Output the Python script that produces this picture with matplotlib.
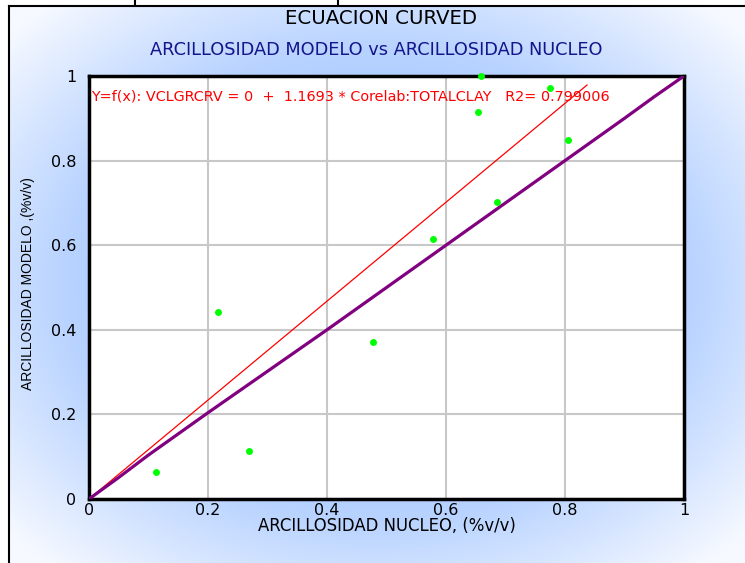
import numpy as np
import matplotlib
matplotlib.use('Agg')
import matplotlib.pyplot as plt
from matplotlib.lines import Line2D
from matplotlib.colors import LinearSegmentedColormap

# Datos: arcillosidad nucleo (x) vs modelo (y)
nucleo = [0.113, 0.217, 0.269, 0.477, 0.578, 0.659, 0.654, 0.686, 0.775, 0.805]
modelo = [0.064, 0.442, 0.114, 0.371, 0.615, 1.0, 0.915, 0.702, 0.972, 0.849]

# Curva del modelo (ecuacion curved)
curva_x = [0, 0.05, 0.1, 0.2, 0.3, 0.4, 0.5, 0.6, 0.7, 0.8, 0.9, 0.95, 1.0]
curva_y = [0, 0.051, 0.104, 0.204, 0.302, 0.40, 0.50, 0.60, 0.70, 0.80, 0.90, 0.951, 1.0]

# Recta de regresion
pendiente = 1.1693
recta_x = [0, 0.837]

ticks = [0, 0.2, 0.4, 0.6, 0.8, 1]
tick_labels = ['0', '0.2', '0.4', '0.6', '0.8', '1']

W, H = 745, 563
fig = plt.figure(figsize=(W / 100, H / 100), dpi=100)

# Fondo degradado (centro azul, esquinas blancas)
bg = fig.add_axes([9 / W, 0, 1 - 9 / W, 1 - 6 / H], zorder=-10)
gx, gy = np.meshgrid(np.linspace(-1, 1, 300), np.linspace(-1, 1, 240))
r = np.sqrt(gx ** 2 + gy ** 2)
t = np.clip((r - 0.35) / 1.0, 0, 1)
cmap = LinearSegmentedColormap.from_list('fondo', ['#94bfff', '#b8d3ff', '#f6f9ff'])
bg.imshow(t, cmap=cmap, aspect='auto', extent=[0, 1, 0, 1], vmin=0, vmax=1)
bg.set_axis_off()

# Marco exterior
fig.add_artist(Line2D([9 / W, 1], [1 - 6 / H, 1 - 6 / H], color='black', lw=1.5))
fig.add_artist(Line2D([9 / W, 9 / W], [0, 1 - 6 / H], color='black', lw=1.5))
for xm in [135, 338]:
    fig.add_artist(Line2D([xm / W, xm / W], [1, 1 - 5 / H], color='black', lw=1.5))

ax = fig.add_axes([89 / W, 64 / H, 595 / W, 423 / H])
ax.set_facecolor('white')

ax.grid(True, color='#c8c8c8', lw=1.5)
ax.set_axisbelow(True)

ax.plot(recta_x, [pendiente * v for v in recta_x], color='#ff0000', lw=0.9, zorder=3)
ax.plot(curva_x, curva_y, color='#800080', lw=2.3, zorder=4)
ax.plot(nucleo, modelo, 'o', color='#00ff00', markersize=5, markeredgewidth=0,
        clip_on=False, zorder=5)

ax.set_xlim(0, 1)
ax.set_ylim(0, 1)
ax.set_xticks(ticks)
ax.set_xticklabels(tick_labels)
ax.set_yticks(ticks)
ax.set_yticklabels(tick_labels)
ax.tick_params(length=0, labelsize=11.5, colors='black')
ax.tick_params(axis='y', pad=9)
ax.tick_params(axis='x', pad=3)
for s in ax.spines.values():
    s.set_linewidth(2.5)
    s.set_color('black')

ax.text(0.003, 0.952, 'Y=f(x): VCLGRCRV = 0  +  1.1693 * Corelab:TOTALCLAY   R2= 0.799006',
        transform=ax.transAxes, color='#ff0000', fontsize=10.4, va='center', ha='left', zorder=6)

ax.set_xlabel('ARCILLOSIDAD NUCLEO, (%v/v)', fontsize=11.9, labelpad=-1)
fig.text(28 / W, 1 - 284 / H, 'ARCILLOSIDAD MODELO ,(%v/v)', rotation=90,
         ha='center', va='center', fontsize=10, family='Liberation Sans')

fig.text(381 / W, 1 - 19 / H, 'ECUACION CURVED', ha='center', va='center', fontsize=14.2)
fig.text(376 / W, 1 - 50 / H, 'ARCILLOSIDAD MODELO vs ARCILLOSIDAD NUCLEO',
         ha='center', va='center', fontsize=12.8, color='#14148c')

fig.savefig('out.png', dpi=100)
